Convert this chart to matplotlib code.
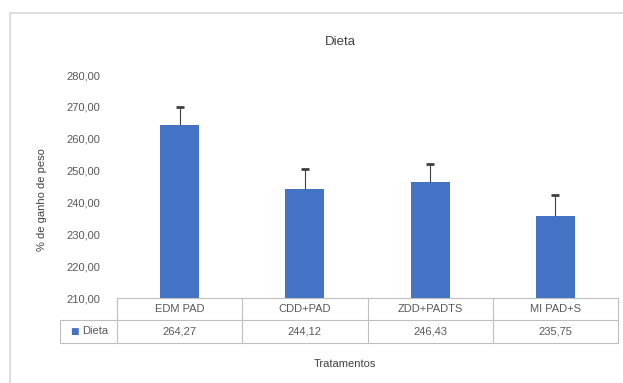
import matplotlib
matplotlib.use("Agg")
import matplotlib.pyplot as plt
from matplotlib.patches import Rectangle
from matplotlib.lines import Line2D
import matplotlib.transforms as mtransforms

title = "Dieta"
series_name = "Dieta"
categories = ["EDM PAD", "CDD+PAD", "ZDD+PADTS", "MI PAD+S"]
values = [264.27, 244.12, 246.43, 235.75]
errors = [5.8, 6.4, 5.6, 6.5]
value_labels = ["264,27", "244,12", "246,43", "235,75"]
yticks = [210, 220, 230, 240, 250, 260, 270, 280]
ytick_labels = ["210,00", "220,00", "230,00", "240,00", "250,00", "260,00", "270,00", "280,00"]
xlabel = "Tratamentos"
ylabel = "% de ganho de peso"

W, H = 623, 383
fig = plt.figure(figsize=(W / 100, H / 100), dpi=100)
plt.rcParams['font.family'] = ['Liberation Sans', 'DejaVu Sans']
txt = "#595959"
blue = "#4472C4"

# chart border
fig.patches.append(Rectangle((10 / W, -0.01), 1.0, 1 - 13 / H + 0.01, transform=fig.transFigure,
                             fill=False, edgecolor="#d9d9d9", linewidth=1.2))

left, right, bottom, top = 117 / W, 618 / W, 1 - 298 / H, 1 - 75 / H
ax = fig.add_axes([left, bottom, right - left, top - bottom])
x = list(range(len(categories)))
ax.bar(x, values, width=0.31, color=blue, zorder=2)
eb = ax.errorbar(x, values, yerr=[[0] * len(errors), errors], fmt="none", ecolor="#404040",
                 elinewidth=0.8, capsize=3, capthick=2, zorder=3)
caps = eb[1]
if len(caps) == 2:
    caps[0].set_visible(False)
ax.set_xlim(-0.5, len(categories) - 0.5)
ax.set_ylim(210, 280)
ax.set_yticks(yticks)
ax.set_yticklabels(ytick_labels, fontsize=8, color=txt)
ax.tick_params(axis="y", length=0, pad=12)
ax.set_xticks([])
for s in ax.spines.values():
    s.set_visible(False)

# data table
trans = mtransforms.blended_transform_factory(ax.transData, ax.transAxes)
axh = 223.0
y0, y1, y2 = 0.0, -22 / axh, -45 / axh
lc = "#bfbfbf"
n = len(categories)
xl, xr = -0.5, n - 0.5
label_left_px = 60
xlab = xl - (117 - label_left_px) / 125.0
ax.add_line(Line2D([xl, xr], [y0, y0], transform=trans, color=lc, lw=0.8, clip_on=False))
ax.add_line(Line2D([xlab, xr], [y1, y1], transform=trans, color=lc, lw=0.8, clip_on=False))
ax.add_line(Line2D([xlab, xr], [y2, y2], transform=trans, color=lc, lw=0.8, clip_on=False))
ax.add_line(Line2D([xlab, xlab], [y1, y2], transform=trans, color=lc, lw=0.8, clip_on=False))
for i in range(n + 1):
    xb = xl + i
    ax.add_line(Line2D([xb, xb], [y0, y2], transform=trans, color=lc, lw=0.8, clip_on=False))
for i, (c, v) in enumerate(zip(categories, value_labels)):
    ax.text(i, (y0 + y1) / 2, c, transform=trans, ha="center", va="center", fontsize=8, color=txt)
    ax.text(i, (y1 + y2) / 2, v, transform=trans, ha="center", va="center", fontsize=8, color=txt)
ax.text(xlab + 0.08, (y1 + y2) / 2, "\u25A0", transform=trans, ha="left", va="center",
        fontsize=6.5, color=blue, family=['DejaVu Sans'])
ax.text(xlab + 0.18, (y1 + y2) / 2, series_name, transform=trans, ha="left", va="center",
        fontsize=8, color=txt)

fig.text(340 / W, 1 - 42 / H, title, ha="center", va="center", fontsize=9.5, color="#404040")
fig.text(345 / W, 1 - 364 / H, xlabel, ha="center", va="center", fontsize=8, color="#404040")
fig.text(42 / W, 1 - 200 / H, ylabel, ha="center", va="center", rotation=90, fontsize=8,
         color="#404040")

fig.savefig("out.png", dpi=100)
